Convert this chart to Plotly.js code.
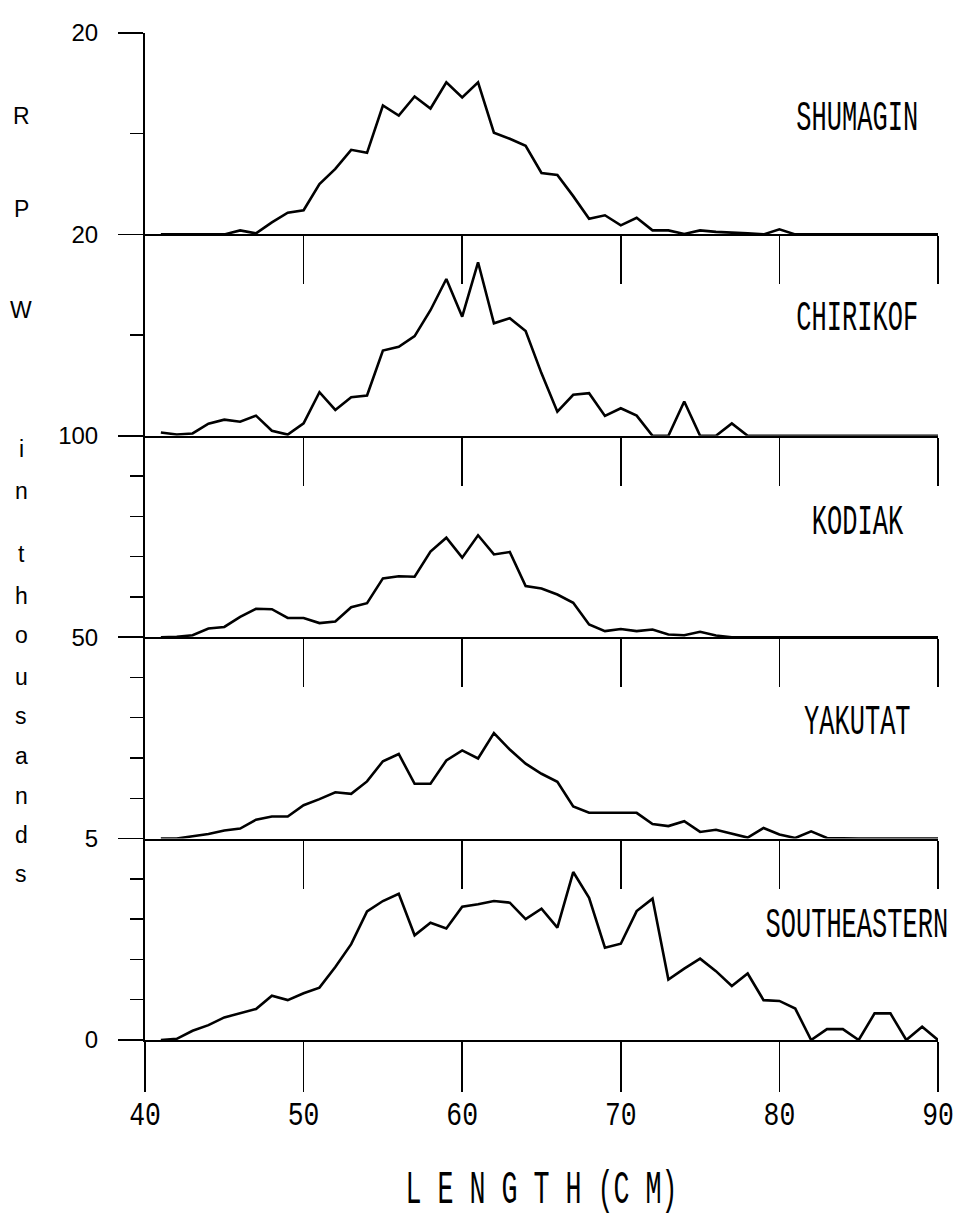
<!DOCTYPE html>
<html>
<head>
<meta charset="utf-8">
<script src="https://cdn.plot.ly/plotly-3.0.1.min.js"></script>
<style>html,body{margin:0;padding:0;background:#fff}</style>
</head>
<body>
<div id="chart" style="width:958px;height:1217px"></div>
<script>
// ---------------- data ----------------
const lengthCm = [41,42,43,44,45,46,47,48,49,50,51,52,53,54,55,56,57,58,59,60,
                  61,62,63,64,65,66,67,68,69,70,71,72,73,74,75,76,77,78,79,80,
                  81,82,83,84,85,86,87,88,89,90];

const shumagin = [0,0,0,0,0, 0.4,0.1,1.2,2.15,2.4, 5.0,6.5,8.4,8.1,12.8,
                  11.8,13.7,12.5,15.1,13.6, 15.1,10.1,9.5,8.8,6.1, 5.9,3.8,1.55,1.9,0.9,
                  1.65,0.4,0.4,0.05,0.4, 0.25,0.2,0.1,0,0.5, 0,0,0,0,0, 0,0,0,0,0];

const chirikof = [0.33,0.13,0.23,1.2,1.6, 1.4,2.0,0.5,0.13,1.23, 4.33,2.57,3.83,4.0,8.47,
                  8.83,9.9,12.47,15.57,11.83, 17.23,11.17,11.67,10.4,6.2, 2.4,4.07,4.23,1.97,2.73,
                  2.0,0,0,3.4,0, 0,1.23,0,0,0, 0,0,0,0,0, 0,0,0,0,0];

const kodiak = [0,0.2,1.0,4.3,5.1, 10.1,14.1,13.9,9.6,9.5, 7.0,7.8,14.9,16.9,29.2,
                30.3,30.0,42.5,49.4,39.5, 50.6,41.1,42.3,25.4,24.2, 21.2,17.1,6.3,3.0,4.1,
                3.0,3.8,1.3,1.0,2.7, 0.8,0,0,0,0, 0,0,0,0,0, 0,0,0,0,0];

const yakutat = [0,0,0.58,1.16,2.0, 2.5,4.7,5.5,5.5,8.3, 9.8,11.5,11.1,14.2,19.2,
                 21.0,13.6,13.6,19.4,21.9, 19.9,26.2,22.1,18.6,16.1, 14.1,8.0,6.4,6.4,6.4,
                 6.4,3.6,3.1,4.3,1.65, 2.2,1.25,0.25,2.65,1.0, 0.15,1.8,0.15,0,0, 0,0,0,0,0];

const southeastern = [0,0.03,0.23,0.37,0.56, 0.67,0.77,1.10,0.99,1.16, 1.30,1.81,2.38,3.19,3.45,
                      3.63,2.60,2.91,2.77,3.31, 3.37,3.45,3.41,3.0,3.26, 2.79,4.17,3.53,2.29,2.39,
                      3.2,3.51,1.50,1.77,2.02, 1.71,1.34,1.65,0.99,0.97, 0.78,0,0.27,0.27,0, 0.66,0.66,0,0.33,0];

const regionNames = ['SHUMAGIN','CHIRIKOF','KODIAK','YAKUTAT','SOUTHEASTERN'];
const regionSeries = [shumagin, chirikof, kodiak, yakutat, southeastern];
const panelMax = [20, 20, 100, 50, 5];
const panelTopLabel = ['20','20','100','50','5'];
const panelMinorStep = [10, 10, 20, 10, 1];
const xTickVals = [40,50,60,70,80,90];
const xTickText = ['40','50','60','70','80','90'];
const yTitleLetters = ['R','P','W','i','n','t','h','o','u','s','a','n','d','s'];
const xTitleText = 'L E N G T H (C M)';

// ---------------- layout geometry ----------------
const W = 958, H = 1217, ML = 145, MR = 20, MT = 33, MB = 177;
const PW = W - ML - MR, PH = H - MT - MB;
const pxX = x => (x - ML) / PW;
const pxY = y => (H - MB - y) / PH;
const yTitleLetterPx = [116,209,310,449,491,554,596,635,677,716,756,796,835,874];
const panelLabelPx = [119,319,522,723,925];

const plotter = '"Liberation Mono", "DejaVu Sans Mono", monospace';
const plain = '"Liberation Sans", "DejaVu Sans", sans-serif';

const traces = [];
const layout = {
  width: W, height: H,
  margin: {l: ML, r: MR, t: MT, b: MB},
  paper_bgcolor: '#ffffff', plot_bgcolor: '#ffffff',
  showlegend: false,
  annotations: []
};

regionNames.forEach((name, i) => {
  const k = 5 - i;                       // Southeastern is the bottom subplot
  const xs = k === 1 ? '' : String(k);
  traces.push({
    type: 'scatter', mode: 'lines', name: name,
    x: lengthCm, y: regionSeries[i],
    xaxis: 'x' + xs, yaxis: 'y' + xs,
    line: {color: '#000', width: 2.6},
    hoverinfo: 'x+y'
  });
  const isBottom = k === 1;
  layout['xaxis' + xs] = {
    domain: [0, 1], range: [40, 90], anchor: 'y' + xs,
    showline: true, linecolor: '#000', linewidth: 2,
    showgrid: false, zeroline: false,
    ticks: 'outside', ticklen: isBottom ? 50 : 48, tickwidth: 1.6, tickcolor: '#000',
    tickmode: 'array',
    tickvals: isBottom ? xTickVals : xTickVals.slice(1),
    ticktext: isBottom ? xTickText : xTickText.slice(1),
    showticklabels: isBottom,
    tickfont: {family: plotter, size: 33, color: '#000'},
    ticklabelstandoff: 0
  };
  if (!isBottom) layout['xaxis' + xs].matches = 'x';
  if (isBottom) {
    layout['xaxis' + xs].title = {
      text: xTitleText, standoff: 44,
      font: {family: plotter, size: 46, color: '#000'}
    };
  }
  layout['yaxis' + xs] = {
    domain: [(k - 1) / 5, k / 5], range: [0, panelMax[i]], anchor: 'x' + xs,
    showline: true, linecolor: '#000', linewidth: 2,
    showgrid: false, zeroline: false,
    ticks: 'outside', ticklen: 25, tickwidth: 1.6, tickcolor: '#000',
    tickmode: 'array',
    tickvals: isBottom ? [0, panelMax[i]] : [panelMax[i]],
    ticktext: isBottom ? ['0', panelTopLabel[i]] : [panelTopLabel[i]],
    tickfont: {family: plain, size: 24, color: '#000'},
    ticklabelstandoff: 15,
    minor: {ticks: 'outside', ticklen: 13, tickwidth: 1.4, tickcolor: '#000', dtick: panelMinorStep[i], showgrid: false}
  };
  layout.annotations.push({
    text: name, xref: 'paper', yref: 'paper',
    x: pxX(857), y: pxY(panelLabelPx[i]), xanchor: 'center', yanchor: 'middle',
    showarrow: false, font: {family: plotter, size: 43, color: '#000'}
  });
});

yTitleLetters.forEach((ch, j) => {
  layout.annotations.push({
    text: ch, xref: 'paper', yref: 'paper',
    x: pxX(21), y: pxY(yTitleLetterPx[j]), xanchor: 'center', yanchor: 'middle',
    showarrow: false, font: {family: plain, size: 23, color: '#000'}
  });
});

// narrow the plotter-style lettering about its own centre (text stays real text)
function squeeze(nodes, sx, sy, dy) {
  nodes.forEach(t => {
    const b = t.getBBox();
    const cx = b.x + b.width / 2, cy = b.y + b.height / 2;
    const prev = t.getAttribute('transform') || '';
    t.setAttribute('transform',
      prev + ' translate(' + cx + ',' + (cy + (dy || 0)) + ') scale(' + sx + ',' + sy + ') translate(' + (-cx) + ',' + (-cy) + ')');
  });
}

Plotly.newPlot('chart', traces, layout, {staticPlot: true, displayModeBar: false}).then(gd => {
  const panelTexts = [];
  regionNames.forEach((n, i) => {
    const t = gd.querySelector('g.annotation[data-index="' + i + '"] text.annotation-text');
    if (t) panelTexts.push(t);
  });
  squeeze(panelTexts, 0.59, 1, 0);
  squeeze(Array.from(gd.querySelectorAll('.xaxislayer-above .xtick text')), 0.8, 1, -7);
  squeeze(Array.from(gd.querySelectorAll('.g-xtitle text')), 0.58, 1, 0);
});
</script>
</body>
</html>
